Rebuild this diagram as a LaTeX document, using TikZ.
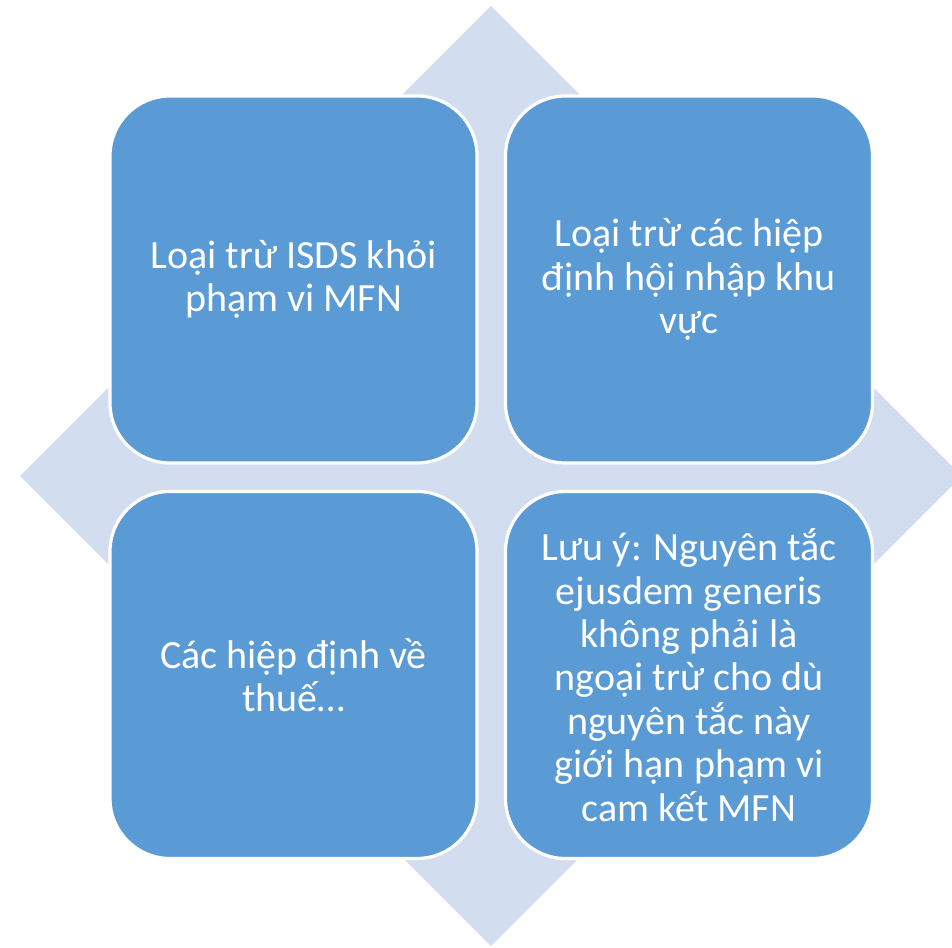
\documentclass[tikz,border=0pt]{standalone}
\usepackage{fontspec}
\setmainfont{Carlito}
\definecolor{boxblue}{RGB}{91,155,213}
\definecolor{diamondgrey}{RGB}{210,222,239}
\begin{document}
\begin{tikzpicture}[x=0.5pt,y=0.5pt,
    quad/.style={draw=white,line width=1.6pt,fill=boxblue,rounded corners=30pt,
      minimum width=183.5pt,minimum height=183.5pt,text=white,align=center,
      font=\fontsize{20pt}{21.7pt}\selectfont}]
  \useasboundingbox (0,0) rectangle (952,947);
  \begin{scope}
    \clip (0,0) rectangle (952,947);
    \fill[diamondgrey] (491,941) -- (962,471) -- (491,1) -- (20,471) -- cycle;
  \end{scope}
  \draw
    (293.5,667.5) node[quad] (0){Loại trừ ISDS khỏi\\phạm vi MFN}
    (689,667.5) node[quad] (1){Loại trừ các hiệp\\định hội nhập khu\\vực}
    (293.5,272) node[quad] (2){Các hiệp định về\\thuế…}
    (689,272) node[quad] (3){Lưu ý: Nguyên tắc\\ejusdem generis\\không phải là\\ngoại trừ cho dù\\nguyên tắc này\\giới hạn phạm vi\\cam kết MFN};
\end{tikzpicture}
\end{document}
